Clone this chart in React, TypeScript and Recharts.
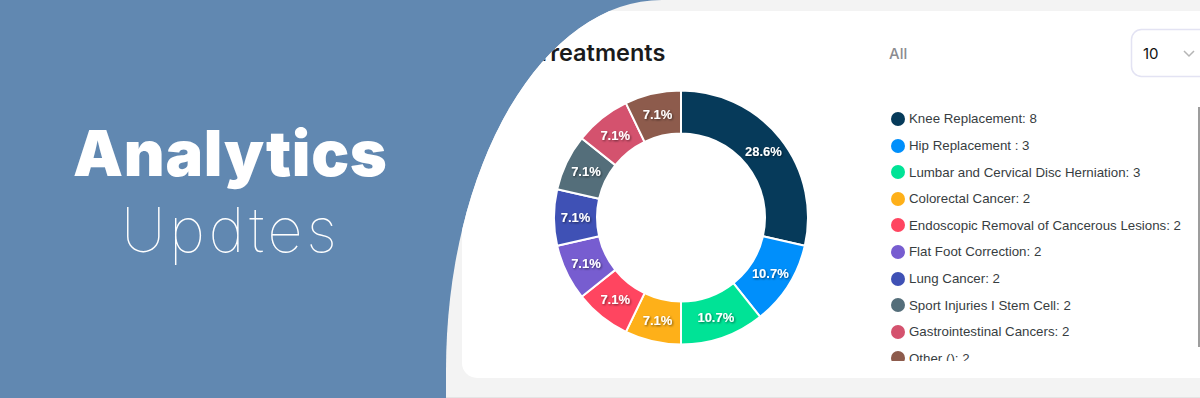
import React from "react";
import { PieChart, Pie, Cell, Legend } from "recharts";

const treatmentNames = [
  "Knee Replacement",
  "Hip Replacement ",
  "Lumbar and Cervical Disc Herniation",
  "Colorectal Cancer",
  "Endoscopic Removal of Cancerous Lesions",
  "Flat Foot Correction",
  "Lung Cancer",
  "Sport Injuries I Stem Cell",
  "Gastrointestinal Cancers",
  "Other ()",
];
const treatmentCounts = [8, 3, 3, 2, 2, 2, 2, 2, 2, 2];
const sliceColors = [
  "#063a5a",
  "#008FFB",
  "#00E396",
  "#FEB019",
  "#FF4560",
  "#775DD0",
  "#3F51B5",
  "#546E7A",
  "#D4526E",
  "#8D5B4C",
];

const data = treatmentNames.map((name, i) => ({ name, value: treatmentCounts[i] }));

const RADIAN = Math.PI / 180;
const CX = 681;
const CY = 217.5;
const R_OUT = 127;
const R_IN = 84;

const renderLabel = (props: any) => {
  const { cx, cy, midAngle, innerRadius, outerRadius, percent } = props;
  const r = (innerRadius + outerRadius) / 2;
  const x = cx + r * Math.cos(-midAngle * RADIAN);
  const y = cy + r * Math.sin(-midAngle * RADIAN);
  return (
    <text
      x={x}
      y={y}
      fill="#ffffff"
      textAnchor="middle"
      dominantBaseline="central"
      fontFamily="'Liberation Sans', Arial, sans-serif"
      fontSize={13}
      fontWeight={700}
      filter="url(#lblShadow)"
    >
      {(percent * 100).toFixed(1) + "%"}
    </text>
  );
};

const renderLegend = () => {
  return (
    <div style={{ height: 255, overflow: "hidden", width: 300 }}>
      {treatmentNames.map((name, i) => (
        <div
          key={name}
          style={{
            position: "relative",
            height: 26.6,
            display: "flex",
            alignItems: "center",
            fontFamily: "'Liberation Sans', Arial, sans-serif",
            fontSize: 13.3,
            color: "#373d3f",
            whiteSpace: "nowrap",
          }}
        >
          <span
            style={{
              display: "inline-block",
              width: 14,
              height: 14,
              borderRadius: 7,
              background: sliceColors[i],
              marginRight: 4,
              flex: "none",
            }}
          />
          <span>{name + ": " + treatmentCounts[i]}</span>
        </div>
      ))}
    </div>
  );
};

const domePath = "M 1200 0 L 662 0 A 216 370 0 0 0 446 370 L 446 398 L 1200 398 Z";

export default function App() {
  return (
    <div
      style={{
        position: "absolute",
        left: 0,
        top: 0,
        width: 1200,
        height: 398,
        overflow: "hidden",
        background: "#6188b1",
      }}
    >
      <svg width={1200} height={398} style={{ position: "absolute", left: 0, top: 0 }}>
        <defs>
          <clipPath id="domeClip">
            <path d={domePath} />
          </clipPath>
          <filter id="lblShadow" x="-20%" y="-40%" width="140%" height="180%">
            <feDropShadow dx="1" dy="1" stdDeviation="0.8" floodColor="#000" floodOpacity="0.55" />
          </filter>
        </defs>
        <rect x={0} y={0} width={1200} height={398} fill="#6188b1" />
        <path d={domePath} fill="#f3f3f3" />
        <g clipPath="url(#domeClip)">
          <rect x={462} y={11} width={800} height={367} rx={15} fill="#ffffff" />
          <line x1={446} y1={397.5} x2={1200} y2={397.5} stroke="#e4e4e4" strokeWidth={1} />
          <text
            x={536}
            y={61}
            fill="#1b1b1b"
            fontFamily="Inter, 'Noto Sans', sans-serif"
            fontSize={23.5}
            fontWeight={600}
          >
            Treatments
          </text>
        </g>
        <text x={889} y={59} fill="#8b8b90" fontFamily="Inter, 'Noto Sans', sans-serif" fontSize={15} fontWeight={500}>
          All
        </text>
        <rect x={1131.5} y={29.5} width={100} height={47} rx={10} fill="#ffffff" stroke="#e3e3f3" strokeWidth={1.5} />
        <text x={1143} y={58.5} fill="#111111" fontFamily="Inter, 'Noto Sans', sans-serif" fontSize={15} fontWeight={400}>
          10
        </text>
        <polyline points="1184,51 1189,56 1194,51" fill="none" stroke="#b5b5b5" strokeWidth={1.5} />
        <line x1={1199} y1={107} x2={1199} y2={347} stroke="#7d7d7d" strokeWidth={1.5} />
        <text
          x={73}
          y={176}
          fill="#ffffff"
          fontFamily="Inter, 'Noto Sans', sans-serif"
          fontSize={63}
          fontWeight={900}
          letterSpacing={0.7}
        >
          Analytics
        </text>
        <text
          x={121}
          y={252}
          fill="#ffffff"
          fontFamily="Inter, 'Noto Sans', sans-serif"
          fontSize={62}
          fontWeight={100}
          letterSpacing={3.4}
        >
          Updtes
        </text>
      </svg>
      <div style={{ position: "absolute", left: 0, top: 0 }}>
        <PieChart width={1200} height={398} margin={{ top: 0, right: 0, bottom: 0, left: 0 }}>
          <Pie
            data={data}
            dataKey="value"
            nameKey="name"
            cx={CX}
            cy={CY}
            innerRadius={R_IN}
            outerRadius={R_OUT}
            startAngle={90}
            endAngle={-270}
            stroke="#ffffff"
            strokeWidth={2}
            label={renderLabel}
            labelLine={false}
            isAnimationActive={false}
          >
            {data.map((d, i) => (
              <Cell key={d.name} fill={sliceColors[i]} />
            ))}
          </Pie>
          <Legend
            layout="vertical"
            align="right"
            verticalAlign="middle"
            content={renderLegend}
            wrapperStyle={{ position: "absolute", left: 891, top: 105.7, width: 300, height: 255, right: "auto", bottom: "auto" }}
          />
        </PieChart>
      </div>
    </div>
  );
}
